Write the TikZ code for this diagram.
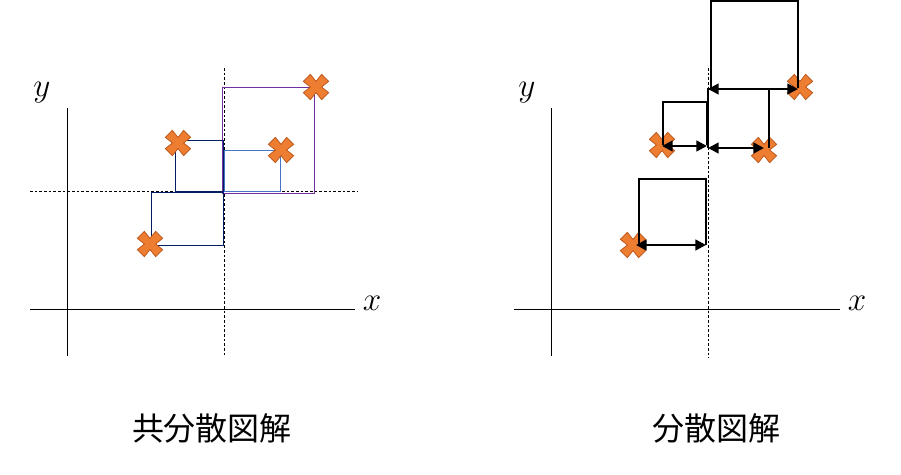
\documentclass[tikz,border=0pt]{standalone}
\usepackage{fontspec}
\usetikzlibrary{arrows.meta}
\newfontfamily\cjk{Noto Sans CJK JP}
\begin{document}
\begin{tikzpicture}[x=0.75pt,y=-0.75pt,
  ax/.style={line width=0.6pt},
  dsh/.style={dashed,line width=0.5pt,dash pattern=on 2pt off 1.5pt},
  arr/.style={line width=1.8pt,{Triangle[length=8pt,width=8pt]}-{Triangle[length=8pt,width=8pt]}},
  bx/.style={line width=1.6pt},
  cross/.pic={\fill[scale=1.4,fill={rgb,255:red,237;green,125;blue,49},draw={rgb,255:red,190;green,90;blue,30},line width=0.6pt]
     (-4,-9)--(0,-4)--(4,-9)--(9,-4)--(4,0)--(9,4)--(4,9)--(0,4)--(-4,9)--(-9,4)--(-4,0)--(-9,-4)--cycle;},
  lbl/.style={font=\fontsize{25}{25}\selectfont}]
\useasboundingbox (0,0) rectangle (901,475);
% left
\draw[ax] (67,108)--(67,356); \draw[ax] (30,309)--(355,309);
\node[lbl] (lx) at (372,303) {$x$}; \node[lbl] (ly) at (42,93) {$y$};
\draw[dsh] (224,68)--(224,355); \draw[dsh] (30,191)--(358,191);
\draw[color={rgb,255:red,112;green,48;blue,160},line width=0.6pt] (222,87) rectangle (314,193);
\draw[color={rgb,255:red,68;green,114;blue,196},line width=0.6pt] (224,150) rectangle (280,191);
\draw[color={rgb,255:red,0;green,32;blue,96},line width=0.6pt] (175,140) rectangle (223,191);
\draw[color={rgb,255:red,0;green,32;blue,96},line width=0.6pt] (151,192) rectangle (223,245);
\pic at (150,244) {cross}; \pic at (178,143) {cross}; \pic at (281,150) {cross}; \pic at (316,87) {cross};
\node[font=\cjk\fontsize{24}{24}\selectfont] (t1) at (212,428) {共分散図解};
% right
\draw[ax] (551,108)--(551,356); \draw[ax] (514,309)--(840,309);
\node[lbl] (rx) at (857,303) {$x$}; \node[lbl] (ry) at (527,93) {$y$};
\draw[dsh] (708,68)--(708,358);
\pic at (633,245) {cross}; \pic at (662,145) {cross}; \pic at (764,150) {cross}; \pic at (800,87) {cross};
\draw[bx] (798,88)--(798,1)--(711,1)--(711,88);
\draw[arr] (798,89)--(708,89);
\draw[bx] (707,145)--(707,102)--(663,102)--(663,145);
\draw[arr] (662,146)--(707,146);
\draw[bx] (708,148)--(708,89)--(769,89)--(769,148);
\draw[arr] (708,148)--(764,148);
\draw[bx] (706,245)--(706,179)--(639,179)--(639,245);
\draw[arr] (636,245)--(706,245);
\node[font=\cjk\fontsize{24}{24}\selectfont] (t2) at (716,428) {分散図解};
\end{tikzpicture}
\end{document}
